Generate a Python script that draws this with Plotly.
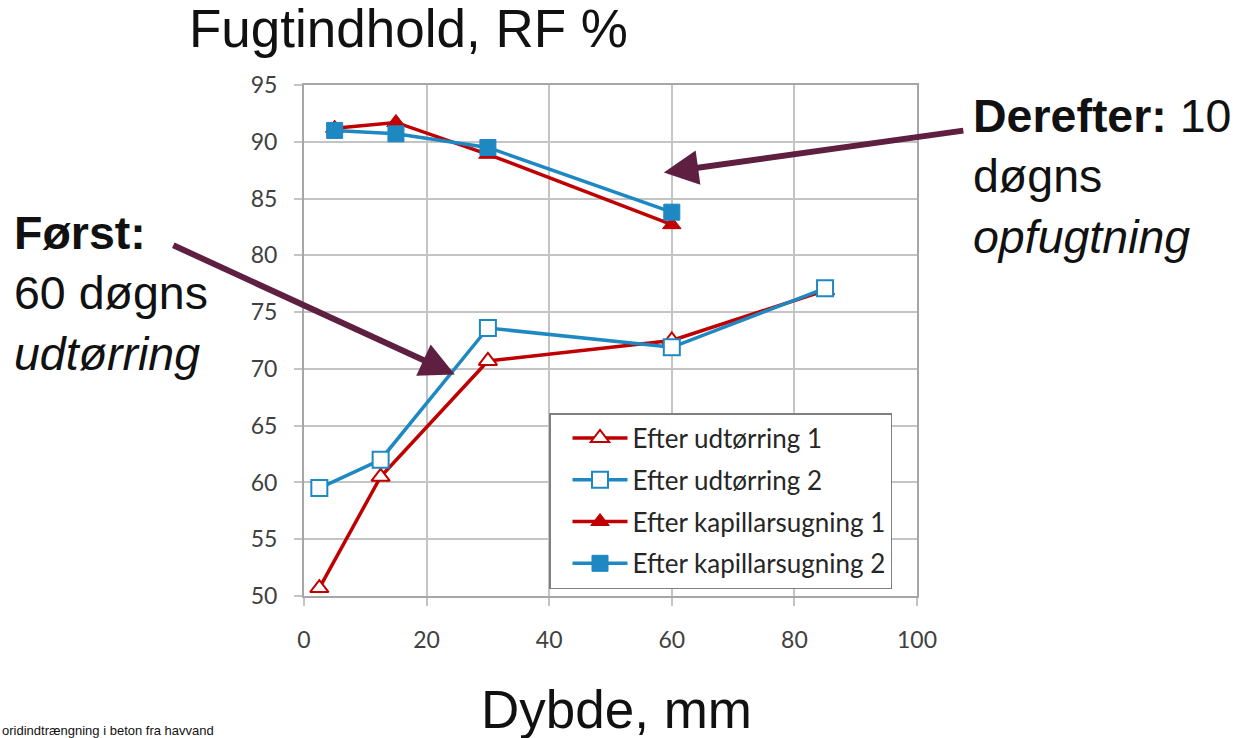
import plotly.graph_objects as go

# Depth (mm) and relative humidity (RF %) measurements
depth_dry = [2.5, 12.5, 30, 60, 85]
rh_dry_1 = [50.7, 60.5, 70.7, 72.5, 76.9]
rh_dry_2 = [59.5, 62.0, 73.6, 71.9, 77.1]

depth_wet = [5, 15, 30, 60]
rh_wet_1 = [91.2, 91.7, 88.9, 82.7]
rh_wet_2 = [91.0, 90.7, 89.5, 83.8]

series_names = [
    "Efter udtørring 1",
    "Efter udtørring 2",
    "Efter kapillarsugning 1",
    "Efter kapillarsugning 2",
]

x_ticks = [0, 20, 40, 60, 80, 100]
y_ticks = [50, 55, 60, 65, 70, 75, 80, 85, 90, 95]

RED = "#c00000"
BLUE = "#1e88c2"
PLUM = "#5e1f40"
GRID = "#c4c4c4"
TICK_FONT = dict(family="Lato, Carlito, Calibri, sans-serif", size=23, color="#404040")

W, H = 1241, 738
L, R, T, B = 304, 917, 85, 596


def px_x(px):
    return (px - L) / (R - L)


def px_y(py):
    return (B - py) / (B - T)


fig = go.Figure()

fig.add_trace(go.Scatter(
    x=depth_dry, y=rh_dry_1, name=series_names[0], mode="lines+markers",
    line=dict(color=RED, width=3.5), legendgroup="a",
    marker=dict(symbol="triangle-up", size=16, color="white",
                line=dict(color=RED, width=2)),
    cliponaxis=False,
))
fig.add_trace(go.Scatter(
    x=depth_dry, y=rh_dry_2, name=series_names[1], mode="lines+markers",
    line=dict(color=BLUE, width=3.5), legendgroup="b",
    marker=dict(symbol="square", size=16, color="white",
                line=dict(color=BLUE, width=2)),
    cliponaxis=False,
))
fig.add_trace(go.Scatter(
    x=depth_wet, y=rh_wet_1, name=series_names[2], mode="lines+markers",
    line=dict(color=RED, width=3.5), legendgroup="c",
    marker=dict(symbol="triangle-up", size=16, color=RED,
                line=dict(color=RED, width=1)),
    cliponaxis=False,
))
fig.add_trace(go.Scatter(
    x=depth_wet, y=rh_wet_2, name=series_names[3], mode="lines+markers",
    line=dict(color=BLUE, width=3.5), legendgroup="d",
    marker=dict(symbol="square", size=16, color=BLUE,
                line=dict(color=BLUE, width=1)),
    cliponaxis=False,
))

fig.update_xaxes(
    range=[0, 100], tickvals=x_ticks, ticktext=[str(v) for v in x_ticks],
    showgrid=True, gridcolor=GRID, gridwidth=2,
    showline=True, mirror=True, linecolor="#a6a6a6", linewidth=2,
    ticks="outside", ticklen=8, tickcolor=GRID, tickwidth=2,
    ticklabelstandoff=14, tickfont=TICK_FONT, zeroline=False,
)
fig.update_yaxes(
    range=[50, 95], tickvals=y_ticks, ticktext=[str(v) for v in y_ticks],
    showgrid=True, gridcolor=GRID, gridwidth=2,
    showline=True, mirror=True, linecolor="#a6a6a6", linewidth=2,
    ticks="outside", ticklen=8, tickcolor=GRID, tickwidth=2,
    ticklabelstandoff=12, tickfont=TICK_FONT, zeroline=False,
)

TEXT_FONT = "Liberation Sans, Arial, sans-serif"
annotations = [
    dict(text="Fugtindhold, RF %", x=px_x(408), y=px_y(28),
         xanchor="center", yanchor="middle",
         font=dict(family=TEXT_FONT, size=53, color="#111111")),
    dict(text="Dybde, mm", x=px_x(616), y=px_y(709),
         xanchor="center", yanchor="middle",
         font=dict(family=TEXT_FONT, size=53, color="#111111")),
    dict(text="<b>Derefter:</b> 10<br>døgns<br><i>opfugtning</i>",
         x=px_x(971), y=px_y(176), xanchor="left", yanchor="middle", align="left",
         font=dict(family=TEXT_FONT, size=46.5, color="#111111")),
    dict(text="<b>Først:</b><br>60 døgns<br><i>udtørring</i>",
         x=px_x(12), y=px_y(293), xanchor="left", yanchor="middle", align="left",
         font=dict(family=TEXT_FONT, size=46.5, color="#111111")),
    dict(text="oridindtrængning i beton fra havvand", x=px_x(0), y=px_y(730),
         xanchor="left", yanchor="middle",
         font=dict(family=TEXT_FONT, size=13, color="#111111")),
]
for a in annotations:
    a.update(xref="paper", yref="paper", showarrow=False)

# Arrows pointing at the drying and the wetting curves
arrows = [
    dict(x=58.7, y=87.3, ax=301, ay=-42),
    dict(x=24.6, y=69.5, ax=-283, ay=-130),
]
for a in arrows:
    a.update(xref="x", yref="y", text="", showarrow=True, arrowhead=2,
             arrowsize=1.15, arrowwidth=6, arrowcolor=PLUM, standoff=0)

fig.update_layout(
    width=W, height=H,
    margin=dict(l=L, r=W - R, t=T, b=H - B, pad=0),
    paper_bgcolor="white", plot_bgcolor="white",
    showlegend=True,
    legend=dict(
        x=px_x(549), y=px_y(413), xanchor="left", yanchor="top",
        bgcolor="white", bordercolor="#7f7f7f", borderwidth=1.5,
        font=dict(family="Lato, Carlito, Calibri, sans-serif", size=26, color="#262626"),
        traceorder="grouped", tracegroupgap=5, itemwidth=55, indentation=17,
        entrywidth=255, entrywidthmode="pixels",
    ),
    annotations=annotations + arrows,
)

fig.write_html("out.html")
